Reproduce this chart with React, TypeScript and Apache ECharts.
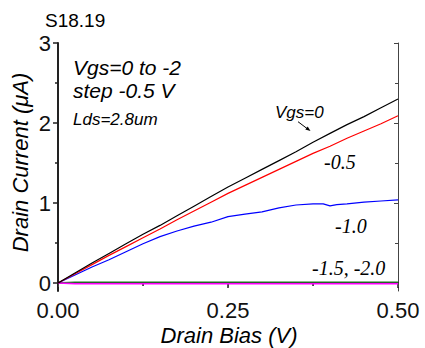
import React, { useEffect, useRef } from "react";
import * as echarts from "echarts";

// Drain bias sweep (V) shared by the Vgs = 0, -0.5 and -1.5/-2.0 traces
const biasV = [
  0, 0.025, 0.05, 0.075, 0.1, 0.125, 0.15, 0.175, 0.2, 0.225, 0.25,
  0.275, 0.3, 0.325, 0.35, 0.375, 0.4, 0.425, 0.45, 0.475, 0.5,
];
// Drain current (µA)
const idVgs0 = [
  0, 0.125, 0.25, 0.37, 0.49, 0.61, 0.72, 0.84, 0.96, 1.08, 1.2,
  1.31, 1.42, 1.53, 1.64, 1.76, 1.87, 1.98, 2.08, 2.19, 2.3,
];
const idVgs05 = [
  0, 0.115, 0.23, 0.345, 0.455, 0.565, 0.675, 0.79, 0.9, 1.01, 1.12,
  1.22, 1.32, 1.42, 1.52, 1.62, 1.71, 1.81, 1.9, 1.99, 2.09,
];
// Vgs = -1.0 trace was sampled on its own bias points
const biasV10 = [
  0, 0.025, 0.05, 0.075, 0.1, 0.125, 0.15, 0.175, 0.2, 0.225, 0.25,
  0.275, 0.3, 0.325, 0.35, 0.375, 0.39, 0.4, 0.41, 0.425, 0.45, 0.475, 0.5,
];
const idVgs10 = [
  0, 0.1, 0.2, 0.29, 0.39, 0.49, 0.58, 0.65, 0.71, 0.76, 0.83,
  0.86, 0.89, 0.94, 0.975, 0.99, 0.99, 0.965, 0.98, 0.99, 1.01, 1.025, 1.04,
];
const idVgs15 = [
  0, 0.012, 0.012, 0.013, 0.012, 0.012, 0.013, 0.012, 0.012, 0.013, 0.012,
  0.012, 0.013, 0.012, 0.012, 0.013, 0.012, 0.012, 0.013, 0.012, 0.013,
];
const idVgs20 = [
  0, -0.01, -0.01, -0.01, -0.01, -0.01, -0.01, -0.01, -0.01, -0.01, -0.01,
  -0.01, -0.01, -0.01, -0.01, -0.01, -0.01, -0.01, -0.01, -0.01, -0.01,
];

const yMajor = [0, 1, 2, 3];
const yMinor = [0.5, 1.5, 2.5];

const SANS = '"Liberation Sans", Arial, sans-serif';
const SERIF = '"Liberation Serif", "Times New Roman", serif';

const pairs = (xs: number[], ys: number[]) => xs.map((x, i) => [x, ys[i]]);

// Plain text label placed by its left/centre point
const label = (
  text: string,
  x: number,
  y: number,
  size: number,
  family: string,
  italic: boolean,
  align = "left",
  rotation = 0
) => ({
  type: "text",
  x,
  y,
  rotation,
  style: {
    text,
    fontSize: size,
    fontFamily: family,
    fontStyle: italic ? "italic" : "normal",
    fill: "#000",
    textAlign: align,
    textVerticalAlign: "middle",
  },
});

export default function App() {
  const ref = useRef<HTMLDivElement>(null);

  useEffect(() => {
    if (!ref.current) return;
    const chart = echarts.init(ref.current, undefined, { renderer: "svg" });

    const axisBase = { min: -0.1, max: 3, splitLine: { show: false } };

    const lineSeries = (name: string, data: number[][], color: string, width = 1.2, opacity = 1) => ({
      name,
      type: "line",
      data,
      showSymbol: false,
      symbol: "none",
      xAxisIndex: 0,
      yAxisIndex: 0,
      lineStyle: { color, width, opacity },
      z: 3,
    });

    chart.setOption({
      animation: false,
      backgroundColor: "#ffffff",
      grid: { left: 58, top: 43, width: 340, height: 248, outerBoundsMode: "none" },
      xAxis: [
        {
          type: "value",
          position: "bottom",
          min: 0,
          max: 0.5,
          interval: 0.25,
          splitLine: { show: false },
          axisLine: { lineStyle: { color: "#222", width: 2 } },
          axisTick: { show: true, inside: false, length: 5, lineStyle: { color: "#222", width: 1.5 } },
          minorTick: { show: true, splitNumber: 2, length: 3, lineStyle: { color: "#222", width: 1.5 } },
          axisLabel: {
            margin: 8,
            fontSize: 22,
            fontFamily: SANS,
            color: "#111",
            formatter: (v: number) => v.toFixed(2),
          },
        },
        {
          type: "value",
          position: "top",
          min: 0,
          max: 0.5,
          interval: 0.25,
          splitLine: { show: false },
          axisLine: { lineStyle: { color: "#444", width: 1 } },
          axisTick: { show: true, inside: true, length: 4, lineStyle: { color: "#444" } },
          minorTick: { show: true, splitNumber: 2, length: 3, lineStyle: { color: "#444" } },
          axisLabel: { show: false },
        },
      ],
      yAxis: [
        {
          type: "value",
          position: "left",
          ...axisBase,
          axisLine: { show: true, lineStyle: { color: "#222", width: 2 } },
          axisTick: { show: true, inside: false, length: 5, customValues: yMajor, lineStyle: { color: "#222", width: 1.5 } },
          axisLabel: {
            customValues: yMajor,
            margin: 7,
            fontSize: 22,
            fontFamily: SANS,
            color: "#111",
            formatter: (v: number) => String(v),
          },
        },
        {
          type: "value",
          position: "left",
          ...axisBase,
          axisLine: { show: false },
          axisTick: { show: true, inside: false, length: 3, customValues: yMinor, lineStyle: { color: "#222", width: 1.5 } },
          axisLabel: { show: false },
        },
        {
          type: "value",
          position: "right",
          ...axisBase,
          axisLine: { show: true, lineStyle: { color: "#444", width: 1 } },
          axisTick: { show: true, inside: true, length: 4, customValues: yMajor, lineStyle: { color: "#444" } },
          axisLabel: { show: false },
        },
        {
          type: "value",
          position: "right",
          ...axisBase,
          axisLine: { show: false },
          axisTick: { show: true, inside: true, length: 3, customValues: yMinor, lineStyle: { color: "#444" } },
          axisLabel: { show: false },
        },
      ],
      series: [
        lineSeries("Vgs=-1.5", pairs(biasV, idVgs15), "#2f8f2f", 1.6, 0.75),
        lineSeries("Vgs=-2.0", pairs(biasV, idVgs20), "#ff00ff", 1.4),
        lineSeries("Vgs=-1.0", pairs(biasV10, idVgs10), "#0000ff", 1.2),
        lineSeries("Vgs=-0.5", pairs(biasV, idVgs05), "#ff0000", 1.2),
        lineSeries("Vgs=0", pairs(biasV, idVgs0), "#000000", 1.2),
      ],
      graphic: [
        label("S18.19", 45, 20, 19, SANS, false),
        label("Vgs=0 to -2", 73, 67.5, 21, SANS, true),
        label("step -0.5 V", 73, 90.5, 21, SANS, true),
        label("Lds=2.8um", 73, 119, 17, SANS, true),
        label("Vgs=0", 275, 112.5, 17, SANS, true),
        {
          type: "line",
          shape: { x1: 298, y1: 121.7, x2: 307, y2: 128.5 },
          style: { stroke: "#000", lineWidth: 1 },
        },
        {
          type: "polygon",
          shape: { points: [[310.5, 131], [305.3, 129.6], [307.7, 126.4]] },
          style: { fill: "#000" },
        },
        label("-0.5", 324, 162, 20, SERIF, true),
        label("-1.0", 335, 225.7, 20, SERIF, true),
        label("-1.5, -2.0", 312, 267.7, 20, SERIF, true),
        label("Drain Current (\u03bcA)", 20.5, 162.5, 22, SANS, true, "center", Math.PI / 2),
        label("Drain Bias (V)", 229, 335.5, 22, SANS, true, "center"),
      ],
    });

    return () => chart.dispose();
  }, []);

  return (
    <div
      ref={ref}
      style={{ position: "fixed", left: 0, top: 0, width: 425, height: 348, background: "#fff" }}
    />
  );
}
